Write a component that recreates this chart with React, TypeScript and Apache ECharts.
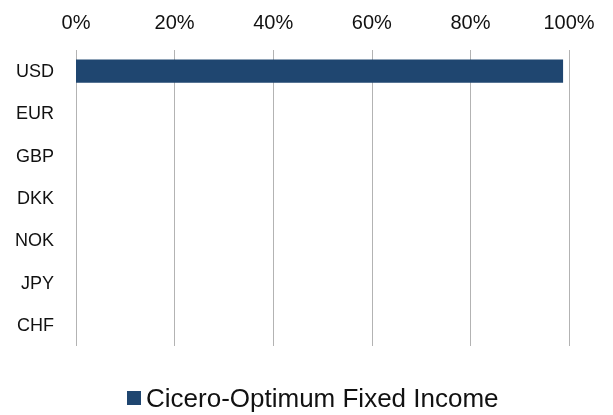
import React, { useEffect, useRef } from "react";
import * as echarts from "echarts";

const categories = ["USD", "EUR", "GBP", "DKK", "NOK", "JPY", "CHF"];
const seriesName = "Cicero-Optimum Fixed Income";
const values = [98.8, 0, 0, 0, 0, 0, 0];
const xTicks = [0, 20, 40, 60, 80, 100];

const FONT = "'Liberation Sans', Arial, sans-serif";

export default function App() {
  const ref = useRef<HTMLDivElement>(null);
  useEffect(() => {
    const chart = echarts.init(ref.current!, null, { renderer: "svg" });
    chart.setOption({
      animation: false,
      textStyle: { fontFamily: FONT },
      grid: { left: 76, right: 44, top: 50, bottom: 69, containLabel: false },
      legend: {
        top: 380,
        left: 122,
        padding: 5,
        itemWidth: 14,
        itemHeight: 14,
        itemGap: 6,
        icon: "rect",
        textStyle: { fontSize: 26, color: "#111", fontFamily: FONT },
        data: [seriesName],
      },
      xAxis: {
        type: "value",
        position: "top",
        min: 0,
        max: 100,
        interval: 20,
        axisLine: { show: false },
        axisTick: { show: false },
        splitLine: { show: true, lineStyle: { color: "#b3b3b3", width: 1 } },
        axisLabel: {
          fontSize: 20,
          color: "#111",
          margin: 18,
          formatter: (v: number) => (xTicks.includes(v) ? `${v}%` : ""),
        },
      },
      yAxis: {
        type: "category",
        inverse: true,
        data: categories,
        axisLine: { show: false },
        axisTick: { show: false },
        axisLabel: { fontSize: 18, color: "#111", margin: 22 },
      },
      series: [
        {
          name: seriesName,
          type: "bar",
          data: values,
          barWidth: "55%",
          itemStyle: { color: "#1f4670" },
        },
      ],
    });
    return () => chart.dispose();
  }, []);
  return (
    <div
      ref={ref}
      style={{ position: "fixed", left: 0, top: 0, width: 613, height: 415 }}
    />
  );
}
